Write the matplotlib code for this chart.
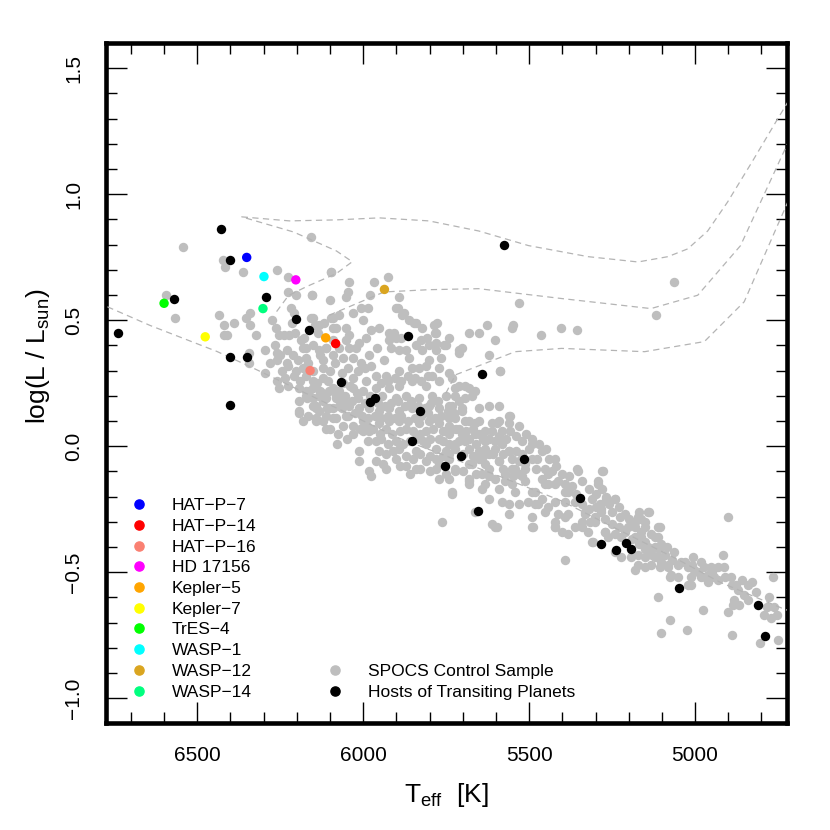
import matplotlib
matplotlib.use('Agg')
import matplotlib.pyplot as plt
from matplotlib.lines import Line2D
from matplotlib.ticker import FixedLocator

plt.rcParams['font.family'] = ['Liberation Sans', 'DejaVu Sans']
plt.rcParams['mathtext.fontset'] = 'custom'
plt.rcParams['mathtext.rm'] = 'Liberation Sans'
plt.rcParams['mathtext.default'] = 'regular'

# SPOCS control sample (Teff [K], log L/Lsun)
spocs = [
    (6543, 0.79), (6157, 0.83), (6423, 0.74), (6416, 0.71), (6363, 0.69), (6259, 0.70), (6098, 0.69),
    (6226, 0.67), (6593, 0.60), (6226, 0.61), (6203, 0.60), (6155, 0.60), (6566, 0.51), (6435, 0.52),
    (6341, 0.53), (6353, 0.51), (6388, 0.49), (6419, 0.48), (6340, 0.48), (6276, 0.50), (6263, 0.47),
    (6419, 0.44), (6409, 0.44), (6322, 0.44), (6218, 0.55), (6208, 0.53), (6216, 0.49), (6206, 0.45),
    (6157, 0.51), (6144, 0.48), (6096, 0.51), (6081, 0.47), (6255, 0.44), (6239, 0.44), (6224, 0.44),
    (6266, 0.40), (6295, 0.38), (6345, 0.37), (6344, 0.33), (6261, 0.37), (6259, 0.34), (6231, 0.38),
    (6211, 0.36), (6196, 0.34), (6226, 0.32), (6297, 0.29), (6236, 0.27), (6226, 0.24), (6255, 0.23),
    (6193, 0.13), (6143, 0.16), (6143, 0.11), (6109, 0.15), (6081, 0.19), (6171, 0.39), (6186, 0.42),
    (6131, 0.36), (6111, 0.39), (6091, 0.42), (6201, 0.30), (6171, 0.28), (6151, 0.26), (6121, 0.27),
    (6101, 0.30), (6171, 0.22), (6131, 0.22), (6111, 0.19), (6091, 0.23), (6151, 0.19), (6081, 0.11),
    (6097, 0.69), (6042, 0.65), (5968, 0.65), (5926, 0.67), (6155, 0.60), (6099, 0.58), (6047, 0.61),
    (6052, 0.59), (5978, 0.60), (5892, 0.59), (5530, 0.57), (5894, 0.55), (5877, 0.53), (5882, 0.52),
    (6032, 0.53), (6007, 0.55), (5987, 0.55), (6072, 0.52), (6092, 0.51), (6152, 0.51), (6002, 0.50),
    (5862, 0.50), (5847, 0.49), (5822, 0.47), (5787, 0.48), (5627, 0.48), (5552, 0.47), (5682, 0.45),
    (5652, 0.45), (5602, 0.42), (5742, 0.43), (5782, 0.45), (5807, 0.43), (5827, 0.42), (5782, 0.41),
    (5752, 0.40), (5702, 0.39), (5712, 0.37), (5622, 0.36), (5587, 0.30), (5952, 0.47), (5922, 0.45),
    (5902, 0.43), (5977, 0.46), (5992, 0.43), (6012, 0.41), (6042, 0.44), (6052, 0.47), (6092, 0.47),
    (6117, 0.49), (6137, 0.45), (6042, 0.39), (5957, 0.39), (5917, 0.39), (5892, 0.38), (5862, 0.35),
    (5937, 0.34), (5982, 0.36), (6007, 0.33), (6032, 0.35), (6062, 0.35), (6092, 0.36), (6122, 0.34),
    (6132, 0.38), (6172, 0.35), (6182, 0.39), (6192, 0.23), (6162, 0.22), (6132, 0.20), (6102, 0.22),
    (6072, 0.22), (6032, 0.23), (5992, 0.26), (5962, 0.28), (5932, 0.28), (5892, 0.30), (5852, 0.31),
    (5812, 0.32), (5792, 0.28), (5772, 0.26), (5812, 0.24), (5852, 0.26), (5892, 0.24), (5922, 0.23),
    (5942, 0.20), (5902, 0.19), (5872, 0.20), (5832, 0.19), (5792, 0.20), (5752, 0.20), (5722, 0.23),
    (5692, 0.24), (5672, 0.20), (5712, 0.18), (5742, 0.16), (5772, 0.15), (5802, 0.16), (5852, 0.15),
    (5892, 0.14), (5922, 0.15), (5952, 0.14), (5982, 0.15), (6012, 0.15), (6042, 0.16), (6072, 0.16),
    (6102, 0.15), (6132, 0.14), (6142, 0.10), (6112, 0.07), (6092, 0.11), (6052, 0.12), (6062, 0.08),
    (6032, 0.05), (6002, 0.10), (5982, 0.06), (6002, 0.06), (5952, 0.09), (5922, 0.10), (5892, 0.10),
    (5872, 0.07), (5912, 0.05), (5947, 0.03), (5987, 0.02), (6012, -0.02), (5952, -0.02), (5902, -0.05),
    (5932, -0.09), (5982, -0.10), (5872, -0.08), (5892, -0.01), (5842, -0.02), (5812, 0.01), (5832, 0.09),
    (5802, 0.10), (5772, 0.09), (5742, 0.11), (5702, 0.14), (5682, 0.10), (5712, 0.07), (5742, 0.05),
    (5772, 0.03), (5782, -0.01), (5752, -0.02), (5722, -0.01), (5692, 0.02), (5662, 0.05), (5632, 0.06),
    (5652, 0.10), (5612, 0.09), (5592, 0.10), (5562, 0.12), (5582, 0.06), (5602, 0.02), (5632, -0.01),
    (5652, -0.05), (5682, -0.07), (5722, -0.09), (5772, -0.07), (5812, -0.06), (5842, -0.09), (5562, -0.02),
    (5592, -0.06), (5622, -0.09), (5552, -0.09), (5532, -0.06), (5512, -0.09), (5622, 0.16), (5652, 0.15),
    (5592, 0.16), (6012, -0.06), (6063, 0.15), (6192, 0.18), (6172, 0.20), (6152, 0.16), (6122, 0.18),
    (6192, 0.14), (6182, 0.10), (6142, 0.15), (6112, 0.12), (6092, 0.15), (6062, 0.18), (6082, 0.20),
    (6132, 0.48), (6177, 0.43), (6152, 0.40), (6112, 0.39), (6052, 0.42), (6022, 0.39), (6072, 0.39),
    (5589, 0.30), (5732, 0.27), (5712, 0.24), (5682, 0.23), (5722, 0.20), (5692, 0.19), (5662, 0.22),
    (5732, 0.16), (5702, 0.15), (5557, 0.12), (5597, 0.09), (5612, 0.06), (5557, 0.06), (5722, 0.11),
    (5692, 0.10), (5662, 0.09), (5732, 0.07), (5702, 0.05), (5652, 0.05), (5632, 0.02), (5582, 0.01),
    (5602, -0.01), (5562, -0.02), (5622, -0.03), (5652, -0.02), (5682, -0.01), (5722, 0.01), (5742, -0.03),
    (5672, -0.07), (5632, -0.07), (5592, -0.06), (5552, -0.05), (5542, -0.09), (5492, 0.01), (5462, -0.02),
    (5422, -0.05), (5477, -0.05), (5512, -0.07), (5532, -0.11), (5572, -0.11), (5602, -0.13), (5642, -0.11),
    (5682, -0.13), (5722, -0.10), (5732, -0.18), (5682, -0.15), (5642, -0.17), (5592, -0.17), (5552, -0.15),
    (5512, -0.14), (5482, -0.18), (5502, -0.22), (5462, -0.21), (5442, -0.15), (5412, -0.14), (5392, -0.15),
    (5442, -0.24), (5422, -0.22), (5392, -0.22), (5352, -0.10), (5357, -0.09), (5279, -0.10), (5292, -0.15),
    (5267, -0.21), (5287, -0.24), (5242, -0.21), (5227, -0.28), (5362, -0.22), (5382, -0.27), (5332, -0.27),
    (5302, -0.30), (5392, -0.28), (5422, -0.30), (5402, -0.34), (5382, -0.35), (5342, -0.32), (5322, -0.34),
    (5312, -0.38), (5272, -0.34), (5242, -0.35), (5192, -0.30), (5172, -0.28), (5152, -0.30), (5142, -0.26),
    (5112, -0.32), (5162, -0.34), (5182, -0.36), (5152, -0.38), (5122, -0.36), (5102, -0.39), (5142, -0.42),
    (5112, -0.44), (5082, -0.47), (5132, -0.47), (5172, -0.47), (5182, -0.49), (5152, -0.44), (5222, -0.44),
    (5242, -0.42), (5392, -0.45), (5422, -0.32), (5492, -0.28), (5487, -0.32), (5562, -0.23), (5562, -0.27),
    (5612, -0.31), (5597, -0.32), (5662, -0.26), (5492, -0.05), (5452, -0.09), (5442, -0.11), (5482, -0.23),
    (5452, -0.26), (5542, -0.18), (5582, -0.22), (5622, -0.21), (5422, -0.15), (5382, -0.18), (5342, -0.30),
    (5282, -0.26), (5202, -0.32), (5062, -0.42), (5742, -0.13),
    (5277, -0.10), (5292, -0.14), (5267, -0.20), (5242, -0.21), (5287, -0.23), (5282, -0.25), (5140, -0.26),
    (5317, -0.30), (5272, -0.34), (5307, -0.38), (5262, -0.36), (5222, -0.36), (5182, -0.30), (5162, -0.29),
    (5152, -0.32), (5162, -0.36), (5132, -0.35), (5112, -0.36), (5107, -0.32), (5085, -0.40), (5142, -0.40),
    (5122, -0.40), (5192, -0.44), (5172, -0.43), (5122, -0.44), (5102, -0.46), (5152, -0.48), (5107, -0.48),
    (5082, -0.48), (5072, -0.51), (5042, -0.46), (5022, -0.48), (5007, -0.44), (4982, -0.46), (5002, -0.49),
    (4972, -0.48), (4952, -0.48), (4932, -0.48), (4912, -0.48), (4917, -0.43), (4962, -0.51), (4982, -0.52),
    (5012, -0.52), (5052, -0.52), (5077, -0.52), (5022, -0.55), (5012, -0.55), (4962, -0.54), (4942, -0.52),
    (4902, -0.28), (4877, -0.55), (4842, -0.55), (4827, -0.54), (4852, -0.59), (4882, -0.61), (4887, -0.63),
    (4902, -0.66), (4867, -0.63), (4842, -0.61), (4817, -0.58), (4777, -0.60), (4782, -0.64), (4762, -0.64),
    (4752, -0.67), (4772, -0.68), (4792, -0.67), (4764, -0.52), (5112, -0.60), (4977, -0.65), (5077, -0.69),
    (5104, -0.74), (5024, -0.73), (4889, -0.75), (4805, -0.78), (4749, -0.77), (4893, -0.52),
    (5062, 0.65), (5119, 0.52), (5550, 0.48), (5404, 0.47), (5355, 0.46), (5465, 0.44), (5712, 0.38),
    (5765, 0.35), (5784, 0.45), (5779, 0.49), (5842, 0.49), (5902, 0.55), (5907, 0.45), (5922, 0.42),
    (5887, 0.43), (5872, 0.38), (5842, 0.40), (5822, 0.38), (5802, 0.40), (5782, 0.38), (5757, 0.40),
    (5772, 0.31), (5742, 0.29), (5802, 0.34), (5832, 0.31),
    (5762, -0.30), (5732, -0.19), (5602, -0.32), (5492, -0.32), (5422, -0.32), (5362, -0.32), (5682, -0.14),
    (5632, -0.15), (5572, -0.14), (5492, -0.18), (5412, -0.27), (5452, -0.15), (5392, -0.18), (5532, -0.23),
    (5472, -0.23), (5332, -0.26), (5302, -0.28), (5772, -0.13), (5977, -0.12),
    # dense core of the main sequence
    (6120, 0.31), (6105, 0.26), (6085, 0.33), (6065, 0.29), (6045, 0.31), (6030, 0.27), (6015, 0.30),
    (5995, 0.31), (5975, 0.32), (6060, 0.25), (6040, 0.24), (6020, 0.21), (6000, 0.22), (5980, 0.20),
    (5960, 0.23), (5945, 0.25), (5925, 0.26), (5905, 0.27), (5885, 0.26), (5865, 0.28), (5845, 0.27),
    (5825, 0.26), (5805, 0.28), (6055, 0.20), (6035, 0.18), (6015, 0.19), (5995, 0.17), (5975, 0.18),
    (5955, 0.17), (5935, 0.16), (5915, 0.17), (5895, 0.18), (5875, 0.16), (5855, 0.18), (5835, 0.16),
    (5815, 0.15), (5795, 0.17), (5775, 0.18), (6045, 0.12), (6025, 0.13), (6005, 0.12), (5985, 0.11),
    (5965, 0.12), (5945, 0.11), (5925, 0.12), (5905, 0.11), (5885, 0.12), (5865, 0.10), (5845, 0.11),
    (5825, 0.12), (5805, 0.13), (5785, 0.11), (5765, 0.12), (5745, 0.14), (5725, 0.13), (6030, 0.08),
    (6010, 0.07), (5990, 0.08), (5970, 0.07), (5950, 0.05), (5930, 0.07), (5890, 0.06), (5850, 0.06),
    (5830, 0.05), (5810, 0.06), (5790, 0.07), (5760, 0.06), (5740, 0.08), (5720, 0.07), (5690, 0.06),
    (5670, 0.07), (5960, 0.02), (5925, 0.01), (5900, 0.02), (5880, 0.01), (5860, 0.02), (5840, 0.03),
    (5820, 0.02), (5800, 0.03), (5760, 0.02), (5740, 0.01), (5710, 0.02), (5680, 0.03), (5660, 0.01),
    (5640, 0.03), (5620, 0.03), (5590, 0.04), (5570, 0.03), (5930, -0.03), (5910, -0.02), (5870, -0.04),
    (5850, -0.05), (5830, -0.03), (5800, -0.04), (5780, -0.05), (5760, -0.04), (5740, -0.05), (5700, -0.03),
    (5670, -0.04), (5640, -0.04), (5610, -0.03), (5580, -0.03), (5540, -0.02), (5520, -0.03), (5500, -0.01),
    (5960, -0.06), (5940, -0.07), (5890, -0.08), (5860, -0.11), (5830, -0.09), (5800, -0.10), (5780, -0.09),
    (5750, -0.11), (5700, -0.10), (5660, -0.11), (5620, -0.12), (5580, -0.09), (5550, -0.12), (5520, -0.12),
    (5480, -0.09), (5460, -0.13), (5430, -0.10), (5560, 0.09), (5540, 0.04), (5530, 0.08), (5520, 0.02),
    (5510, 0.05), (5490, 0.03), (5470, 0.01), (5450, -0.01), (5440, -0.05), (5420, -0.08), (5400, -0.11),
    (5380, -0.12), (5370, -0.16), (5360, -0.19), (5340, -0.14), (5320, -0.17), (5310, -0.21), (5300, -0.19),
    (5280, -0.17), (5260, -0.23), (5250, -0.26), (5230, -0.24), (5210, -0.27), (5200, -0.29), (5180, -0.32),
    (5170, -0.26), (5340, -0.23), (5320, -0.25), (5300, -0.24), (5270, -0.29), (5250, -0.31), (5230, -0.32),
    (5210, -0.34), (5190, -0.37), (5170, -0.39), (5150, -0.41), (5130, -0.43), (5110, -0.41), (5090, -0.43),
    (5070, -0.45), (5050, -0.47), (5030, -0.46), (5010, -0.47), (4990, -0.50), (4970, -0.52), (4950, -0.50),
    (4930, -0.53), (4910, -0.52), (4890, -0.55), (4870, -0.57), (4860, -0.53), (6210, 0.28), (6190, 0.26),
    (6180, 0.31), (6165, 0.33), (6150, 0.30), (6140, 0.25), (6230, 0.33), (6245, 0.30), (6260, 0.26),
    (6280, 0.33), (6250, 0.36), (6170, 0.19), (6150, 0.23), (6125, 0.21), (6165, 0.12), (6120, 0.10),
    (6100, 0.07), (6075, 0.05), (6050, 0.03), (6080, 0.01),
]
spocs_teff = [p[0] for p in spocs]
spocs_logl = [p[1] for p in spocs]

# other hosts of transiting planets
host_teff = [6739, 6571, 6429, 6401, 6292, 6203, 6162, 6401, 6351, 6401, 6068, 5864, 5978, 5964, 5830,
             5852, 5754, 5704, 5642, 5515, 5577, 5654, 5346, 5282, 5237, 5208, 5192, 5047, 4809, 4788]
host_logl = [0.449, 0.583, 0.862, 0.739, 0.591, 0.504, 0.462, 0.354, 0.354, 0.163, 0.256, 0.437, 0.175,
             0.193, 0.138, 0.019, -0.080, -0.041, 0.287, -0.049, 0.799, -0.256, -0.204, -0.389, -0.412,
             -0.385, -0.408, -0.561, -0.632, -0.755]

# named hosts
planet_names = ['HAT\u2212P\u22127', 'HAT\u2212P\u221214', 'HAT\u2212P\u221216', 'HD 17156', 'Kepler\u22125',
                'Kepler\u22127', 'TrES\u22124', 'WASP\u22121', 'WASP\u221212', 'WASP\u221214']
planet_colors = ['#0000ff', '#ff0000', '#fa8072', '#ff00ff', '#ffa500',
                 '#ffff00', '#00ff00', '#00ffff', '#daa520', '#00ff7f']
planet_teff = [6351, 6083, 6160, 6203, 6113, 6476, 6600, 6299, 5936, 6302]
planet_logl = [0.749, 0.407, 0.300, 0.660, 0.430, 0.434, 0.567, 0.673, 0.622, 0.546]

# ZAMS and evolutionary tracks (dashed)
zams_teff = [6800, 6642, 6441, 6330, 6192, 5892, 5592, 5403, 5262, 5052, 4923, 4731, 4700]
zams_logl = [0.570, 0.479, 0.376, 0.309, 0.222, 0.032, -0.118, -0.217, -0.311, -0.450, -0.541, -0.647, -0.66]
track1_teff = [6261, 6225, 6171, 6081, 6033, 6081, 6210, 6366, 6222, 6081, 5952, 5802, 5652, 5502,
               5322, 5172, 5082, 5022, 4962, 4902, 4827, 4752, 4700]
track1_logl = [0.534, 0.598, 0.633, 0.685, 0.732, 0.775, 0.850, 0.910, 0.894, 0.898, 0.906, 0.894,
               0.854, 0.796, 0.752, 0.731, 0.752, 0.783, 0.854, 0.969, 1.131, 1.297, 1.41]
track2_teff = [6102, 5937, 5802, 5652, 5403, 5133, 4992, 4863, 4743, 4700]
track2_logl = [0.520, 0.612, 0.621, 0.625, 0.586, 0.546, 0.599, 0.796, 1.139, 1.26]
track3_teff = [5751, 5722, 5542, 5402, 5152, 4972, 4852, 4752, 4700]
track3_logl = [0.210, 0.283, 0.375, 0.388, 0.375, 0.415, 0.573, 0.875, 1.03]

ytick_vals = [-1.0, -0.5, 0.0, 0.5, 1.0, 1.5]
ytick_labels = ['\u22121.0', '\u22120.5', '0.0', '0.5', '1.0', '1.5']
xtick_vals = [6500, 6000, 5500, 5000]

fig = plt.figure(figsize=(8.3, 8.3), dpi=100)
ax = fig.add_axes([0.1273, 0.1285, 0.8205, 0.8197])

ax.scatter(spocs_teff, spocs_logl, s=46, color='#bebebe', linewidths=0, zorder=2)
for tt, ll in [(zams_teff, zams_logl), (track1_teff, track1_logl),
               (track2_teff, track2_logl), (track3_teff, track3_logl)]:
    ax.plot(tt, ll, color='#b4b4b4', lw=0.9, dashes=(5, 3.5), zorder=3)
ax.scatter(host_teff, host_logl, s=46, color='black', linewidths=0, zorder=4)
ax.scatter(planet_teff, planet_logl, s=46, c=planet_colors, linewidths=0, zorder=5)

ax.set_xlim(6776, 4724)
ax.set_ylim(-1.1, 1.6)

ax.xaxis.set_major_locator(FixedLocator(xtick_vals))
ax.xaxis.set_minor_locator(FixedLocator(range(4800, 6701, 100)))
ax.yaxis.set_major_locator(FixedLocator(ytick_vals))
ax.yaxis.set_minor_locator(FixedLocator([v / 10 for v in range(-10, 16)]))
ax.set_yticklabels(ytick_labels)

ax.tick_params(which='both', direction='in', top=True, right=True, width=1.0, colors='black')
ax.tick_params(which='major', length=15, labelsize=15, pad=16)
ax.tick_params(which='minor', length=8)
ax.tick_params(axis='y', labelrotation=90)
for lab in ax.get_yticklabels():
    lab.set_va('center')
for sp in ax.spines.values():
    sp.set_linewidth(3.3)

ax.set_xlabel(r'T$_{eff}$  [K]', fontsize=19)
ax.set_ylabel(r'log(L / L$_{sun}$)', fontsize=19)
ax.xaxis.set_label_coords(0.5, -0.105)
ax.xaxis.label.set_va('center')
ax.yaxis.set_label_coords(-0.099, 0.54)
ax.yaxis.label.set_va('center')

handles1 = [Line2D([], [], marker='o', ls='', color=c, markersize=6.6, label=n)
            for n, c in zip(planet_names, planet_colors)]
leg1 = ax.legend(handles=handles1, loc='upper left', bbox_to_anchor=(0.0366, 0.3311),
                 frameon=False, fontsize=12.5, handlelength=1.0, handletextpad=1.37,
                 labelspacing=0.32, borderpad=0, borderaxespad=0)
ax.add_artist(leg1)
handles2 = [Line2D([], [], marker='o', ls='', color='#bebebe', markersize=6.6, label='SPOCS Control Sample'),
            Line2D([], [], marker='o', ls='', color='black', markersize=6.6, label='Hosts of Transiting Planets')]
ax.legend(handles=handles2, loc='upper left', bbox_to_anchor=(0.3244, 0.0871),
          frameon=False, fontsize=12.5, handlelength=1.0, handletextpad=1.37,
          labelspacing=0.32, borderpad=0, borderaxespad=0)

fig.savefig('out.png', dpi=100)
